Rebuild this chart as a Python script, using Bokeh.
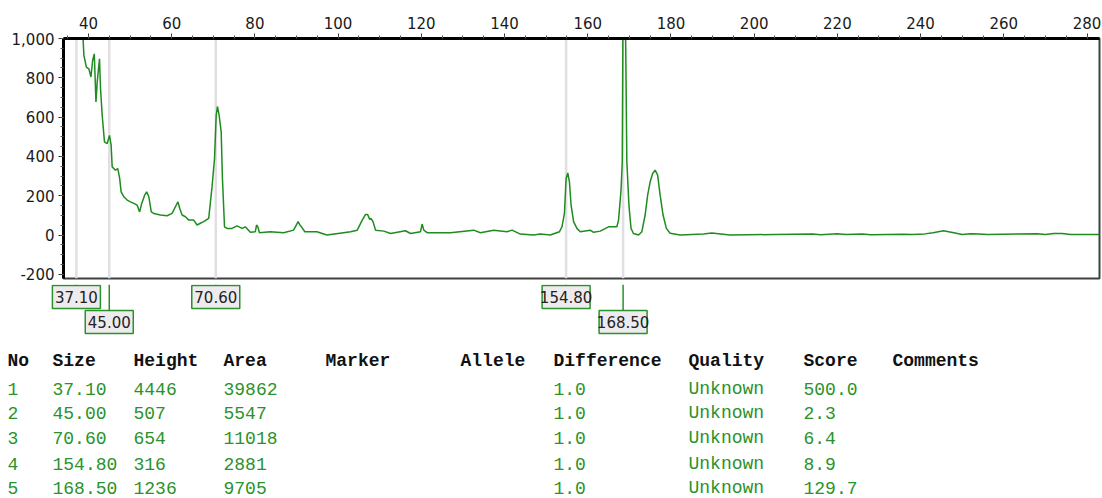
from bokeh.plotting import figure
from bokeh.models import ColumnDataSource, Range1d, SingleIntervalTicker, NumeralTickFormatter
from bokeh.layouts import column
from bokeh.core.properties import value
from bokeh.embed import file_html
from bokeh.resources import INLINE

# ---------------- data ----------------
trace_x = [34.5, 35.5, 36.5, 37.1, 37.8, 38.4, 38.7, 38.9, 39.5, 40.1, 40.6, 41.0, 41.4, 41.8, 42.1,
           42.65, 42.9, 43.3, 43.85, 44.5, 45.05, 45.45, 45.7, 46.5, 47.05, 47.5, 47.85, 48.5, 49.3,
           50.1, 50.9, 51.7, 52.3, 52.8, 53.5, 54.0, 54.5, 55.1, 55.7, 57.3, 58.9, 60.1, 60.9, 61.5,
           61.95, 62.5, 63.3, 64.1, 65.3, 66.1, 66.9, 67.7, 68.9, 69.7, 70.3, 70.7, 71.0, 71.4, 71.9,
           72.2, 72.7, 73.3, 74.5, 75.7, 76.9, 77.7, 78.9, 80.1, 80.4, 80.7, 81.1, 83.7, 86.9, 89.3,
           90.4, 90.8, 91.2, 92.0, 94.9, 97.3, 100.0, 103.0, 104.6, 105.8, 106.6, 107.1, 107.6, 107.9,
           108.4, 109.0, 111.0, 112.6, 116.2, 117.4, 119.8, 120.2, 120.6, 121.4, 127.0, 132.6, 134.2,
           137.4, 140.6, 141.8, 143.8, 147.0, 148.6, 151.0, 153.2, 153.8, 154.4, 154.8, 155.2, 155.6,
           156.0, 156.6, 157.4, 158.2, 160.6, 161.4, 163.0, 165.0, 167.0, 167.4, 168.0, 168.3, 168.5,
           169.0, 169.4, 169.9, 170.4, 171.0, 172.2, 173.0, 173.8, 174.4, 175.0, 175.6, 176.2, 176.8,
           177.4, 178.1, 178.9, 179.8, 182.2, 187.8, 189.8, 194.2, 205.0, 214.0, 216.0, 220.0, 222.0,
           226.0, 228.0, 236.0, 238.0, 241.0, 243.0, 245.5, 248.0, 250.0, 252.0, 254.0, 256.0, 268.0,
           270.0, 272.0, 274.0, 276.0, 283.0]
trace_y = [3000, 3600, 4200, 4446, 3000, 1500, 1000, 914, 854, 846, 804, 888, 922, 677, 778,
           897, 746, 609, 474, 465, 507, 457, 347, 330, 338, 288, 220, 195, 178,
           169, 161, 152, 118, 161, 203, 220, 195, 118, 110, 102, 98, 110, 144, 169,
           135, 102, 93, 76, 76, 51, 60, 68, 85, 245, 389, 609, 654, 610, 524,
           288, 42, 34, 34, 47, 34, 42, 14, 17, 51, 42, 12, 17, 12, 25,
           68, 51, 42, 17, 17, 0, 8, 17, 25, 76, 105, 105, 80, 85,
           68, 25, 20, 8, 22, 8, 17, 56, 25, 12, 12, 25, 12,
           25, 17, 25, 5, 0, 5, 0, 17, 42, 110, 288, 316, 270,
           152, 68, 34, 17, 25, 14, 20, 42, 42, 76, 228, 372, 1236,
           1236, 372, 152, 34, 8, 0, 17, 102, 203, 271, 313, 330, 305,
           203, 102, 34, 9, 0, 5, 10, 0, 3, 6, 2, 7, 3,
           6, 2, 4, 3, 6, 12, 22, 12, 3, 7, 6, 3, 7,
           3, 8, 8, 3, 3]

marker_size = [37.10, 45.00, 70.60, 154.80, 168.50]
marker_row = [0, 1, 0, 0, 1]

tbl_no = [1, 2, 3, 4, 5]
tbl_size = ["37.10", "45.00", "70.60", "154.80", "168.50"]
tbl_height = [4446, 507, 654, 316, 1236]
tbl_area = [39862, 5547, 11018, 2881, 9705]
tbl_marker = ["", "", "", "", ""]
tbl_allele = ["", "", "", "", ""]
tbl_diff = ["1.0", "1.0", "1.0", "1.0", "1.0"]
tbl_quality = ["Unknown", "Unknown", "Unknown", "Unknown", "Unknown"]
tbl_score = ["500.0", "2.3", "6.4", "8.9", "129.7"]
tbl_comments = ["", "", "", "", ""]
headers = ["No", "Size", "Height", "Area", "Marker", "Allele", "Difference", "Quality", "Score", "Comments"]

# ---------------- styles / layout ----------------
GREEN = "#1f8c1f"
TGREEN = "#2a922a"
GRAYLINE = "#e2dfe3"
FW = 1102
BL, BR = 63, 3
X0, X1 = 34, 283
Y0, Y1 = -221, 1000
TICKFONT = "DejaVu Sans"

# ---------------- chart ----------------
p = figure(width=FW, height=284, x_range=Range1d(X0, X1), y_range=Range1d(Y0, Y1),
           x_axis_location="above", output_backend="svg", toolbar_location=None,
           min_border_left=BL, min_border_right=BR, min_border_top=38, min_border_bottom=6)
p.frame_align = False
p.grid.visible = False
p.outline_line_color = "#404040"
p.outline_line_width = 2
p.background_fill_color = "white"
p.border_fill_color = "white"

xa = p.xaxis[0]
xa.ticker = SingleIntervalTicker(interval=20, num_minor_ticks=4)
ya = p.yaxis[0]
ya.ticker = SingleIntervalTicker(interval=200, num_minor_ticks=4)
ya.formatter = NumeralTickFormatter(format="0,0")
for ax in (xa, ya):
    ax.axis_line_color = "black"
    ax.axis_line_width = 3
    ax.major_tick_line_color = "#333333"
    ax.minor_tick_line_color = "#555555"
    ax.major_tick_out = 5
    ax.major_tick_in = 0
    ax.minor_tick_out = 3
    ax.minor_tick_in = 0
    ax.major_label_text_font = TICKFONT
    ax.major_label_text_font_size = "15px"
    ax.major_label_text_color = "#1a1a1a"
xa.major_label_standoff = 5
ya.major_label_standoff = 4

msrc = ColumnDataSource(dict(
    x=marker_size,
    y0=[Y0] * len(marker_size),
    y1=[Y1] * len(marker_size),
))
p.segment(x0="x", x1="x", y0="y0", y1="y1", source=msrc, line_color=GRAYLINE, line_width=2.5)
p.line(trace_x, trace_y, line_color=GREEN, line_width=1.5)

# ---------------- marker boxes ----------------
MH = 52
ppu = (X1 - X0) / (FW - BL - BR)
m = figure(width=FW, height=MH, x_range=Range1d(X0 - BL * ppu, X1 + BR * ppu), y_range=Range1d(MH, 0),
           output_backend="svg", toolbar_location=None, min_border=0,
           min_border_left=0, min_border_right=0, min_border_top=0, min_border_bottom=0)
m.frame_align = False
m.axis.visible = False
m.grid.visible = False
m.outline_line_color = None
m.background_fill_color = "white"
m.border_fill_color = "white"

BOX_H = 23
box_top = [1 + r * 25 for r in marker_row]
bsrc = ColumnDataSource(dict(
    x=marker_size,
    top=box_top,
    yc=[t + BOX_H / 2 for t in box_top],
    stem0=[0] * len(marker_size),
    label=["%.2f" % s for s in marker_size],
))
m.segment(x0="x", x1="x", y0="stem0", y1="top", source=bsrc, line_color=TGREEN, line_width=1.5)
m.rect(x="x", y="yc", width=48, height=BOX_H, width_units="screen", height_units="screen",
       source=bsrc, fill_color="#eeebee", line_color=TGREEN, line_width=1.5)
m.text(x="x", y="yc", text="label", source=bsrc, text_align="center", text_baseline="middle",
       text_font=value(TICKFONT), text_font_size="15px", text_color="#222222")

# ---------------- table ----------------
TH = 162
t = figure(width=FW, height=TH, x_range=Range1d(0, FW), y_range=Range1d(TH, 0),
           output_backend="svg", toolbar_location=None, min_border=0,
           min_border_left=0, min_border_right=0, min_border_top=0, min_border_bottom=0)
t.frame_align = False
t.axis.visible = False
t.grid.visible = False
t.outline_line_color = None
t.background_fill_color = "white"
t.border_fill_color = "white"

col_x = [7, 52, 133, 223, 325, 460, 553, 688, 803, 892]
head_y = 24
row_y = [52, 76, 101, 127, 151]

hsrc = ColumnDataSource(dict(x=col_x, y=[head_y] * len(headers), text=headers))
t.text(x="x", y="y", text="text", source=hsrc, text_align="left", text_baseline="middle",
       text_font=value("Liberation Mono"), text_font_style="bold", text_font_size="18px",
       text_color="#111111")

columns = [tbl_no, tbl_size, tbl_height, tbl_area, tbl_marker, tbl_allele,
           tbl_diff, tbl_quality, tbl_score, tbl_comments]
cx, cy, ct = [], [], []
for ci, col in enumerate(columns):
    for ri, v in enumerate(col):
        s = str(v)
        if s:
            cx.append(col_x[ci])
            cy.append(row_y[ri])
            ct.append(s)
rsrc = ColumnDataSource(dict(x=cx, y=cy, text=ct))
t.text(x="x", y="y", text="text", source=rsrc, text_align="left", text_baseline="middle",
       text_font=value("Liberation Mono"), text_font_size="18px", text_color=TGREEN)

layout = column(p, m, t, spacing=0)
open("out.html", "w").write(file_html(layout, INLINE))
